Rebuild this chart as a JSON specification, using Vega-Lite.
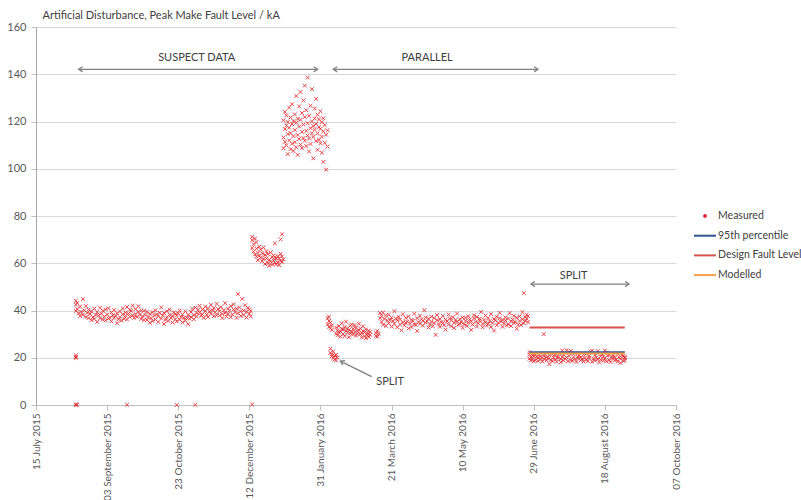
{
  "$schema": "https://vega.github.io/schema/vega-lite/v6.json",
  "width": 640,
  "height": 378,
  "autosize": {"type": "none"},
  "padding": {"left": 36, "top": 27, "right": 125, "bottom": 95},
  "background": "#ffffff",
  "config": {
    "view": {"stroke": null},
    "font": "Lato",
    "axis": {"labelFont": "Lato", "labelFontSize": 11, "labelColor": "#595959", "domainColor": "#bfbfbf", "tickColor": "#bfbfbf", "gridColor": "#d9d9d9"},
    "legend": {"title": null, "orient": "none", "legendX": 657, "legendY": 177, "symbolType": "stroke", "symbolSize": 484, "symbolStrokeWidth": 2, "labelFontSize": 10.5, "labelColor": "#404040", "labelFont": "Lato", "labelOffset": 1, "rowPadding": 1.7, "labelLimit": 200}
  },
  "datasets": {
    "pts": [
      {"d":"2015-08-12","v":42.5},{"d":"2015-08-12","v":39.8},{"d":"2015-08-12","v":44.1},{"d":"2015-08-12","v":20.3},{"d":"2015-08-12","v":21.0},{"d":"2015-08-12","v":19.9},{"d":"2015-08-12","v":0},{"d":"2015-08-12","v":0.2},{"d":"2015-08-13","v":0.1},
      {"d":"2015-08-13","v":40.6},{"d":"2015-08-13","v":43.2},{"d":"2015-08-14","v":38.9},{"d":"2015-08-15","v":41.7},{"d":"2015-08-15","v":37.6},{"d":"2015-08-16","v":39.4},{"d":"2015-08-17","v":44.8},{"d":"2015-08-17","v":38.2},{"d":"2015-08-18","v":40.1},{"d":"2015-08-19","v":37.3},{"d":"2015-08-19","v":41.9},{"d":"2015-08-20","v":39.0},
      {"d":"2015-08-21","v":36.8},{"d":"2015-08-21","v":40.4},{"d":"2015-08-22","v":38.5},{"d":"2015-08-23","v":35.9},{"d":"2015-08-23","v":39.7},{"d":"2015-08-24","v":37.2},{"d":"2015-08-25","v":40.8},{"d":"2015-08-25","v":36.4},{"d":"2015-08-26","v":38.1},{"d":"2015-08-27","v":35.2},{"d":"2015-08-27","v":39.3},{"d":"2015-08-28","v":37.9},{"d":"2015-08-29","v":41.2},{"d":"2015-08-29","v":36.7},{"d":"2015-08-30","v":38.6},{"d":"2015-08-31","v":36.1},{"d":"2015-08-31","v":39.9},
      {"d":"2015-09-01","v":37.4},{"d":"2015-09-02","v":40.5},{"d":"2015-09-02","v":35.8},{"d":"2015-09-03","v":38.3},{"d":"2015-09-04","v":36.6},{"d":"2015-09-04","v":41.0},{"d":"2015-09-05","v":37.0},{"d":"2015-09-06","v":39.2},{"d":"2015-09-06","v":35.4},{"d":"2015-09-07","v":38.0},{"d":"2015-09-08","v":36.9},{"d":"2015-09-08","v":40.2},{"d":"2015-09-09","v":37.7},{"d":"2015-09-10","v":34.6},{"d":"2015-09-10","v":38.8},{"d":"2015-09-11","v":36.3},{"d":"2015-09-12","v":39.6},{"d":"2015-09-12","v":37.1},{"d":"2015-09-13","v":35.7},{"d":"2015-09-14","v":38.4},{"d":"2015-09-14","v":40.9},{"d":"2015-09-15","v":36.5},{"d":"2015-09-16","v":39.1},{"d":"2015-09-16","v":37.8},{"d":"2015-09-17","v":0.1},{"d":"2015-09-17","v":41.5},{"d":"2015-09-17","v":36.2},{"d":"2015-09-18","v":38.7},{"d":"2015-09-19","v":40.3},{"d":"2015-09-19","v":37.4},{"d":"2015-09-20","v":39.8},{"d":"2015-09-21","v":42.1},{"d":"2015-09-21","v":38.0},{"d":"2015-09-22","v":36.9},{"d":"2015-09-23","v":40.6},{"d":"2015-09-23","v":38.5},{"d":"2015-09-24","v":37.3},{"d":"2015-09-25","v":39.4},{"d":"2015-09-25","v":41.8},{"d":"2015-09-26","v":38.2},{"d":"2015-09-27","v":36.4},{"d":"2015-09-27","v":40.0},{"d":"2015-09-28","v":37.6},{"d":"2015-09-29","v":39.9},{"d":"2015-09-29","v":35.9},{"d":"2015-09-30","v":38.1},
      {"d":"2015-10-01","v":36.0},{"d":"2015-10-01","v":39.5},{"d":"2015-10-02","v":37.2},{"d":"2015-10-03","v":34.8},{"d":"2015-10-03","v":38.6},{"d":"2015-10-04","v":36.7},{"d":"2015-10-05","v":39.3},{"d":"2015-10-05","v":35.5},{"d":"2015-10-06","v":37.9},{"d":"2015-10-07","v":36.2},{"d":"2015-10-07","v":40.1},{"d":"2015-10-08","v":38.4},{"d":"2015-10-09","v":35.1},{"d":"2015-10-09","v":37.5},{"d":"2015-10-10","v":39.0},{"d":"2015-10-11","v":36.6},{"d":"2015-10-11","v":41.3},{"d":"2015-10-12","v":37.8},{"d":"2015-10-13","v":34.3},{"d":"2015-10-13","v":38.9},{"d":"2015-10-14","v":36.0},{"d":"2015-10-15","v":39.7},{"d":"2015-10-15","v":37.1},{"d":"2015-10-16","v":35.6},{"d":"2015-10-17","v":38.2},{"d":"2015-10-17","v":40.4},{"d":"2015-10-18","v":36.8},{"d":"2015-10-19","v":34.9},{"d":"2015-10-19","v":37.7},{"d":"2015-10-20","v":39.2},{"d":"2015-10-21","v":36.3},{"d":"2015-10-21","v":38.5},{"d":"2015-10-22","v":0.0},{"d":"2015-10-22","v":35.4},{"d":"2015-10-22","v":37.9},{"d":"2015-10-23","v":38.8},{"d":"2015-10-24","v":36.1},{"d":"2015-10-24","v":40.0},{"d":"2015-10-25","v":37.4},{"d":"2015-10-26","v":35.0},{"d":"2015-10-26","v":38.3},{"d":"2015-10-27","v":36.9},{"d":"2015-10-28","v":39.6},{"d":"2015-10-28","v":35.7},{"d":"2015-10-29","v":37.0},{"d":"2015-10-30","v":34.2},{"d":"2015-10-30","v":38.1},{"d":"2015-10-31","v":36.5},
      {"d":"2015-11-01","v":39.4},{"d":"2015-11-01","v":37.2},{"d":"2015-11-02","v":40.7},{"d":"2015-11-03","v":38.0},{"d":"2015-11-03","v":36.3},{"d":"2015-11-04","v":0.1},{"d":"2015-11-04","v":41.2},{"d":"2015-11-05","v":38.9},{"d":"2015-11-05","v":37.5},{"d":"2015-11-06","v":40.3},{"d":"2015-11-07","v":39.1},{"d":"2015-11-07","v":42.0},{"d":"2015-11-08","v":37.8},{"d":"2015-11-09","v":40.5},{"d":"2015-11-09","v":38.4},{"d":"2015-11-10","v":36.9},{"d":"2015-11-11","v":39.8},{"d":"2015-11-11","v":41.6},{"d":"2015-11-12","v":38.2},{"d":"2015-11-13","v":40.9},{"d":"2015-11-13","v":37.3},{"d":"2015-11-14","v":39.5},{"d":"2015-11-15","v":42.4},{"d":"2015-11-15","v":38.7},{"d":"2015-11-16","v":40.1},{"d":"2015-11-17","v":37.6},{"d":"2015-11-17","v":41.0},{"d":"2015-11-18","v":39.3},{"d":"2015-11-19","v":38.0},{"d":"2015-11-19","v":42.8},{"d":"2015-11-20","v":40.6},{"d":"2015-11-21","v":37.9},{"d":"2015-11-21","v":39.7},{"d":"2015-11-22","v":41.4},{"d":"2015-11-23","v":38.5},{"d":"2015-11-23","v":36.8},{"d":"2015-11-24","v":40.2},{"d":"2015-11-25","v":43.1},{"d":"2015-11-25","v":39.0},{"d":"2015-11-26","v":37.4},{"d":"2015-11-27","v":40.8},{"d":"2015-11-27","v":38.6},{"d":"2015-11-28","v":39.9},{"d":"2015-11-29","v":37.1},{"d":"2015-11-29","v":41.9},{"d":"2015-11-30","v":38.3},
      {"d":"2015-12-01","v":40.4},{"d":"2015-12-01","v":42.6},{"d":"2015-12-02","v":39.2},{"d":"2015-12-03","v":36.9},{"d":"2015-12-03","v":40.7},{"d":"2015-12-04","v":47.0},{"d":"2015-12-04","v":38.8},{"d":"2015-12-05","v":41.3},{"d":"2015-12-06","v":39.6},{"d":"2015-12-06","v":37.7},{"d":"2015-12-07","v":44.9},{"d":"2015-12-08","v":40.0},{"d":"2015-12-08","v":38.1},{"d":"2015-12-09","v":42.2},{"d":"2015-12-10","v":39.4},{"d":"2015-12-10","v":37.0},{"d":"2015-12-11","v":41.1},{"d":"2015-12-12","v":38.6},{"d":"2015-12-12","v":40.5},{"d":"2015-12-13","v":39.8},{"d":"2015-12-13","v":37.5},{"d":"2015-12-14","v":0.2},
      {"d":"2015-12-14","v":69.8},{"d":"2015-12-14","v":66.5},{"d":"2015-12-14","v":71.2},{"d":"2015-12-15","v":68.1},{"d":"2015-12-15","v":64.9},{"d":"2015-12-16","v":70.4},{"d":"2015-12-16","v":63.7},{"d":"2015-12-17","v":66.2},{"d":"2015-12-17","v":62.8},{"d":"2015-12-17","v":68.9},{"d":"2015-12-18","v":64.5},{"d":"2015-12-18","v":61.3},{"d":"2015-12-19","v":67.0},{"d":"2015-12-19","v":63.1},{"d":"2015-12-20","v":62.4},{"d":"2015-12-20","v":65.8},{"d":"2015-12-21","v":60.9},{"d":"2015-12-21","v":64.2},{"d":"2015-12-22","v":66.7},{"d":"2015-12-22","v":61.8},{"d":"2015-12-23","v":63.5},{"d":"2015-12-23","v":59.7},{"d":"2015-12-24","v":62.0},{"d":"2015-12-24","v":65.1},{"d":"2015-12-25","v":60.2},{"d":"2015-12-25","v":63.9},{"d":"2015-12-26","v":61.5},{"d":"2015-12-26","v":58.9},{"d":"2015-12-27","v":64.6},{"d":"2015-12-27","v":60.7},{"d":"2015-12-28","v":62.7},{"d":"2015-12-28","v":59.4},{"d":"2015-12-29","v":61.2},{"d":"2015-12-29","v":63.3},{"d":"2015-12-30","v":60.0},{"d":"2015-12-30","v":62.5},{"d":"2015-12-30","v":68.4},{"d":"2015-12-31","v":59.6},{"d":"2015-12-31","v":61.9},{"d":"2016-01-01","v":63.0},{"d":"2016-01-01","v":60.4},{"d":"2016-01-02","v":62.1},{"d":"2016-01-02","v":59.2},{"d":"2016-01-03","v":61.0},{"d":"2016-01-03","v":64.0},{"d":"2016-01-03","v":70.1},{"d":"2016-01-04","v":60.6},{"d":"2016-01-04","v":62.9},{"d":"2016-01-04","v":72.3},{"d":"2016-01-05","v":61.7},
      {"d":"2016-01-05","v":113.2},{"d":"2016-01-05","v":120.5},{"d":"2016-01-05","v":108.7},{"d":"2016-01-06","v":116.8},{"d":"2016-01-06","v":111.4},{"d":"2016-01-06","v":124.1},{"d":"2016-01-07","v":109.9},{"d":"2016-01-07","v":118.3},{"d":"2016-01-07","v":122.6},{"d":"2016-01-08","v":114.7},{"d":"2016-01-08","v":106.2},{"d":"2016-01-08","v":119.8},{"d":"2016-01-09","v":112.0},{"d":"2016-01-09","v":125.9},{"d":"2016-01-09","v":117.4},{"d":"2016-01-10","v":108.3},{"d":"2016-01-10","v":121.7},{"d":"2016-01-10","v":115.1},{"d":"2016-01-11","v":110.6},{"d":"2016-01-11","v":118.9},{"d":"2016-01-11","v":127.3},{"d":"2016-01-12","v":113.8},{"d":"2016-01-12","v":107.5},{"d":"2016-01-12","v":120.2},{"d":"2016-01-13","v":116.4},{"d":"2016-01-13","v":123.0},{"d":"2016-01-13","v":111.2},{"d":"2016-01-14","v":109.1},{"d":"2016-01-14","v":119.5},{"d":"2016-01-14","v":130.8},{"d":"2016-01-15","v":114.3},{"d":"2016-01-15","v":121.1},{"d":"2016-01-15","v":105.9},{"d":"2016-01-16","v":117.9},{"d":"2016-01-16","v":112.6},{"d":"2016-01-16","v":126.4},{"d":"2016-01-17","v":110.2},{"d":"2016-01-17","v":120.7},{"d":"2016-01-17","v":132.5},{"d":"2016-01-18","v":115.6},{"d":"2016-01-18","v":108.8},{"d":"2016-01-18","v":123.6},{"d":"2016-01-19","v":118.7},{"d":"2016-01-19","v":113.0},{"d":"2016-01-19","v":128.9},{"d":"2016-01-20","v":111.9},{"d":"2016-01-20","v":121.9},{"d":"2016-01-20","v":135.2},{"d":"2016-01-21","v":116.1},{"d":"2016-01-21","v":109.6},{"d":"2016-01-21","v":124.8},{"d":"2016-01-22","v":119.3},{"d":"2016-01-22","v":114.1},{"d":"2016-01-22","v":138.6},{"d":"2016-01-23","v":112.8},{"d":"2016-01-23","v":122.4},{"d":"2016-01-23","v":107.3},{"d":"2016-01-24","v":117.2},{"d":"2016-01-24","v":126.7},{"d":"2016-01-24","v":110.5},{"d":"2016-01-25","v":115.0},{"d":"2016-01-25","v":120.0},{"d":"2016-01-25","v":133.7},{"d":"2016-01-26","v":113.5},{"d":"2016-01-26","v":118.1},{"d":"2016-01-26","v":104.4},{"d":"2016-01-27","v":121.3},{"d":"2016-01-27","v":116.6},{"d":"2016-01-27","v":125.5},{"d":"2016-01-28","v":111.7},{"d":"2016-01-28","v":119.0},{"d":"2016-01-28","v":129.6},{"d":"2016-01-29","v":114.9},{"d":"2016-01-29","v":108.0},{"d":"2016-01-29","v":122.9},{"d":"2016-01-30","v":117.6},{"d":"2016-01-30","v":112.3},{"d":"2016-01-30","v":120.9},{"d":"2016-01-31","v":110.8},{"d":"2016-01-31","v":116.9},{"d":"2016-01-31","v":124.3},{"d":"2016-02-01","v":113.6},{"d":"2016-02-01","v":119.7},{"d":"2016-02-01","v":106.8},{"d":"2016-02-02","v":115.8},{"d":"2016-02-02","v":102.9},{"d":"2016-02-02","v":121.4},{"d":"2016-02-03","v":111.0},{"d":"2016-02-03","v":118.5},{"d":"2016-02-04","v":114.4},{"d":"2016-02-04","v":99.6},{"d":"2016-02-05","v":116.3},{"d":"2016-02-05","v":109.4},
      {"d":"2016-02-05","v":36.8},{"d":"2016-02-05","v":34.2},{"d":"2016-02-06","v":33.1},{"d":"2016-02-06","v":35.6},{"d":"2016-02-06","v":37.4},{"d":"2016-02-07","v":32.5},{"d":"2016-02-07","v":34.9},{"d":"2016-02-08","v":31.8},{"d":"2016-02-08","v":33.7},
      {"d":"2016-02-07","v":23.8},{"d":"2016-02-07","v":22.1},{"d":"2016-02-08","v":21.4},{"d":"2016-02-08","v":20.6},{"d":"2016-02-09","v":22.7},{"d":"2016-02-09","v":19.8},{"d":"2016-02-10","v":20.9},{"d":"2016-02-10","v":19.3},{"d":"2016-02-11","v":21.2},{"d":"2016-02-11","v":18.9},{"d":"2016-02-12","v":20.1},
      {"d":"2016-02-11","v":30.2},{"d":"2016-02-11","v":32.8},{"d":"2016-02-12","v":29.5},{"d":"2016-02-12","v":31.6},{"d":"2016-02-13","v":33.4},{"d":"2016-02-13","v":30.7},{"d":"2016-02-14","v":31.1},{"d":"2016-02-14","v":28.9},{"d":"2016-02-15","v":32.3},{"d":"2016-02-15","v":34.6},{"d":"2016-02-16","v":30.0},{"d":"2016-02-16","v":31.9},{"d":"2016-02-17","v":29.2},{"d":"2016-02-17","v":33.0},{"d":"2016-02-18","v":31.4},{"d":"2016-02-18","v":35.3},{"d":"2016-02-19","v":30.6},{"d":"2016-02-19","v":32.5},{"d":"2016-02-20","v":28.7},{"d":"2016-02-20","v":31.8},{"d":"2016-02-21","v":33.6},{"d":"2016-02-21","v":30.3},{"d":"2016-02-22","v":31.0},{"d":"2016-02-22","v":34.1},{"d":"2016-02-23","v":29.8},{"d":"2016-02-23","v":32.2},{"d":"2016-02-24","v":30.9},{"d":"2016-02-24","v":33.8},{"d":"2016-02-25","v":32.7},{"d":"2016-02-25","v":29.4},{"d":"2016-02-26","v":31.3},{"d":"2016-02-26","v":30.1},{"d":"2016-02-27","v":34.4},{"d":"2016-02-27","v":31.7},{"d":"2016-02-28","v":29.9},{"d":"2016-02-28","v":32.4},{"d":"2016-02-29","v":30.5},{"d":"2016-02-29","v":28.6},{"d":"2016-03-01","v":31.2},{"d":"2016-03-01","v":33.3},{"d":"2016-03-02","v":29.1},{"d":"2016-03-02","v":30.8},{"d":"2016-03-03","v":32.0},{"d":"2016-03-03","v":28.3},{"d":"2016-03-04","v":30.4},{"d":"2016-03-04","v":29.6},{"d":"2016-03-05","v":31.5},{"d":"2016-03-05","v":28.8},{"d":"2016-03-06","v":29.7},{"d":"2016-03-06","v":30.9},
      {"d":"2016-03-10","v":30.6},{"d":"2016-03-10","v":29.3},{"d":"2016-03-11","v":31.4},{"d":"2016-03-11","v":28.9},{"d":"2016-03-12","v":30.1},
      {"d":"2016-03-13","v":36.8},{"d":"2016-03-13","v":38.9},{"d":"2016-03-14","v":35.2},{"d":"2016-03-14","v":37.6},{"d":"2016-03-15","v":39.1},{"d":"2016-03-15","v":34.0},{"d":"2016-03-16","v":36.4},{"d":"2016-03-17","v":33.5},{"d":"2016-03-17","v":37.9},{"d":"2016-03-18","v":35.8},{"d":"2016-03-19","v":38.2},{"d":"2016-03-19","v":34.6},{"d":"2016-03-20","v":36.1},{"d":"2016-03-21","v":33.2},{"d":"2016-03-21","v":37.0},{"d":"2016-03-22","v":35.5},{"d":"2016-03-23","v":39.7},{"d":"2016-03-23","v":34.3},{"d":"2016-03-24","v":36.6},{"d":"2016-03-25","v":32.9},{"d":"2016-03-25","v":35.9},{"d":"2016-03-26","v":37.3},{"d":"2016-03-27","v":34.1},{"d":"2016-03-27","v":36.2},{"d":"2016-03-28","v":31.6},{"d":"2016-03-29","v":35.0},{"d":"2016-03-29","v":38.4},{"d":"2016-03-30","v":33.7},{"d":"2016-03-31","v":36.9},{"d":"2016-03-31","v":34.8},
      {"d":"2016-04-01","v":35.3},{"d":"2016-04-02","v":32.4},{"d":"2016-04-02","v":37.5},{"d":"2016-04-03","v":34.5},{"d":"2016-04-04","v":36.0},{"d":"2016-04-04","v":33.0},{"d":"2016-04-05","v":35.7},{"d":"2016-04-06","v":38.6},{"d":"2016-04-06","v":34.2},{"d":"2016-04-07","v":33.9},{"d":"2016-04-08","v":36.7},{"d":"2016-04-08","v":31.3},{"d":"2016-04-09","v":35.1},{"d":"2016-04-10","v":37.8},{"d":"2016-04-10","v":34.4},{"d":"2016-04-11","v":36.3},{"d":"2016-04-12","v":33.6},{"d":"2016-04-12","v":35.6},{"d":"2016-04-13","v":40.1},{"d":"2016-04-14","v":34.9},{"d":"2016-04-14","v":37.1},{"d":"2016-04-15","v":35.4},{"d":"2016-04-16","v":32.8},{"d":"2016-04-16","v":36.5},{"d":"2016-04-17","v":34.0},{"d":"2016-04-18","v":37.4},{"d":"2016-04-18","v":35.2},{"d":"2016-04-19","v":33.3},{"d":"2016-04-20","v":36.8},{"d":"2016-04-20","v":34.7},{"d":"2016-04-21","v":29.7},{"d":"2016-04-22","v":35.9},{"d":"2016-04-22","v":38.1},{"d":"2016-04-23","v":34.3},{"d":"2016-04-24","v":36.4},{"d":"2016-04-24","v":33.1},{"d":"2016-04-25","v":35.0},{"d":"2016-04-26","v":37.7},{"d":"2016-04-26","v":34.6},{"d":"2016-04-27","v":33.8},{"d":"2016-04-28","v":36.1},{"d":"2016-04-28","v":31.9},{"d":"2016-04-29","v":35.5},{"d":"2016-04-30","v":38.3},{"d":"2016-04-30","v":34.1},
      {"d":"2016-05-01","v":36.6},{"d":"2016-05-02","v":33.4},{"d":"2016-05-02","v":35.8},{"d":"2016-05-03","v":37.2},{"d":"2016-05-04","v":34.8},{"d":"2016-05-04","v":32.6},{"d":"2016-05-05","v":36.0},{"d":"2016-05-06","v":38.7},{"d":"2016-05-06","v":35.3},{"d":"2016-05-07","v":33.9},{"d":"2016-05-08","v":36.3},{"d":"2016-05-08","v":34.5},{"d":"2016-05-09","v":35.1},{"d":"2016-05-10","v":32.7},{"d":"2016-05-10","v":37.0},{"d":"2016-05-11","v":34.2},{"d":"2016-05-12","v":36.9},{"d":"2016-05-12","v":35.6},{"d":"2016-05-13","v":33.5},{"d":"2016-05-14","v":37.6},{"d":"2016-05-14","v":34.9},{"d":"2016-05-15","v":36.2},{"d":"2016-05-16","v":31.8},{"d":"2016-05-16","v":35.4},{"d":"2016-05-17","v":34.0},{"d":"2016-05-18","v":38.0},{"d":"2016-05-18","v":36.7},{"d":"2016-05-19","v":35.2},{"d":"2016-05-20","v":33.2},{"d":"2016-05-20","v":37.3},{"d":"2016-05-21","v":34.6},{"d":"2016-05-22","v":36.5},{"d":"2016-05-22","v":35.7},{"d":"2016-05-23","v":39.4},{"d":"2016-05-24","v":34.3},{"d":"2016-05-24","v":32.9},{"d":"2016-05-25","v":36.1},{"d":"2016-05-26","v":35.0},{"d":"2016-05-26","v":37.9},{"d":"2016-05-27","v":33.6},{"d":"2016-05-28","v":36.8},{"d":"2016-05-28","v":34.4},{"d":"2016-05-29","v":35.5},{"d":"2016-05-30","v":38.5},{"d":"2016-05-30","v":33.0},{"d":"2016-05-31","v":34.7},
      {"d":"2016-06-01","v":36.4},{"d":"2016-06-01","v":31.5},{"d":"2016-06-02","v":35.9},{"d":"2016-06-03","v":33.8},{"d":"2016-06-03","v":37.4},{"d":"2016-06-04","v":34.9},{"d":"2016-06-05","v":36.7},{"d":"2016-06-05","v":39.0},{"d":"2016-06-06","v":35.3},{"d":"2016-06-07","v":33.1},{"d":"2016-06-07","v":36.0},{"d":"2016-06-08","v":34.5},{"d":"2016-06-09","v":37.1},{"d":"2016-06-09","v":35.8},{"d":"2016-06-10","v":33.7},{"d":"2016-06-11","v":36.6},{"d":"2016-06-11","v":34.2},{"d":"2016-06-12","v":38.9},{"d":"2016-06-13","v":35.4},{"d":"2016-06-13","v":33.4},{"d":"2016-06-14","v":36.2},{"d":"2016-06-15","v":34.8},{"d":"2016-06-15","v":37.8},{"d":"2016-06-16","v":35.1},{"d":"2016-06-17","v":32.3},{"d":"2016-06-17","v":36.9},{"d":"2016-06-18","v":34.0},{"d":"2016-06-19","v":37.5},{"d":"2016-06-19","v":35.6},{"d":"2016-06-20","v":33.9},{"d":"2016-06-21","v":36.3},{"d":"2016-06-21","v":39.3},{"d":"2016-06-22","v":47.4},{"d":"2016-06-22","v":34.6},{"d":"2016-06-23","v":35.7},{"d":"2016-06-23","v":37.2},{"d":"2016-06-24","v":36.5},{"d":"2016-06-24","v":38.2},{"d":"2016-06-25","v":35.0},{"d":"2016-06-25","v":37.6},
      {"d":"2016-06-26","v":21.3},{"d":"2016-06-26","v":19.6},{"d":"2016-06-26","v":22.4},{"d":"2016-06-27","v":20.1},{"d":"2016-06-27","v":18.8},{"d":"2016-06-28","v":19.4},{"d":"2016-06-28","v":21.0},{"d":"2016-06-29","v":20.7},{"d":"2016-06-29","v":18.5},{"d":"2016-06-30","v":19.0},{"d":"2016-06-30","v":21.6},{"d":"2016-07-01","v":20.4},{"d":"2016-07-02","v":18.7},{"d":"2016-07-02","v":19.9},{"d":"2016-07-03","v":21.2},{"d":"2016-07-04","v":19.3},{"d":"2016-07-04","v":20.5},{"d":"2016-07-05","v":18.4},{"d":"2016-07-06","v":30.0},{"d":"2016-07-06","v":20.8},{"d":"2016-07-06","v":19.5},{"d":"2016-07-07","v":21.4},{"d":"2016-07-08","v":18.9},{"d":"2016-07-08","v":20.2},{"d":"2016-07-09","v":19.7},{"d":"2016-07-10","v":17.3},{"d":"2016-07-10","v":20.9},{"d":"2016-07-11","v":19.1},{"d":"2016-07-12","v":21.5},{"d":"2016-07-12","v":18.6},{"d":"2016-07-13","v":20.0},{"d":"2016-07-14","v":19.2},{"d":"2016-07-14","v":21.1},{"d":"2016-07-15","v":18.3},{"d":"2016-07-16","v":20.6},{"d":"2016-07-16","v":19.8},{"d":"2016-07-17","v":21.8},{"d":"2016-07-18","v":19.4},{"d":"2016-07-18","v":18.1},{"d":"2016-07-19","v":20.3},{"d":"2016-07-19","v":23.1},{"d":"2016-07-20","v":18.8},{"d":"2016-07-20","v":21.3},{"d":"2016-07-21","v":19.6},{"d":"2016-07-22","v":23.2},{"d":"2016-07-22","v":20.1},{"d":"2016-07-23","v":18.5},{"d":"2016-07-24","v":20.7},{"d":"2016-07-24","v":22.4},{"d":"2016-07-25","v":19.0},{"d":"2016-07-25","v":22.9},{"d":"2016-07-26","v":21.9},{"d":"2016-07-26","v":18.7},{"d":"2016-07-27","v":20.4},{"d":"2016-07-28","v":19.3},{"d":"2016-07-28","v":22.0},{"d":"2016-07-29","v":18.2},{"d":"2016-07-30","v":20.5},{"d":"2016-07-30","v":19.7},{"d":"2016-07-31","v":21.0},
      {"d":"2016-08-01","v":18.9},{"d":"2016-08-01","v":20.2},{"d":"2016-08-02","v":19.5},{"d":"2016-08-03","v":21.4},{"d":"2016-08-03","v":18.4},{"d":"2016-08-04","v":20.0},{"d":"2016-08-05","v":19.1},{"d":"2016-08-05","v":21.7},{"d":"2016-08-06","v":18.6},{"d":"2016-08-07","v":20.8},{"d":"2016-08-07","v":19.9},{"d":"2016-08-08","v":22.6},{"d":"2016-08-09","v":18.3},{"d":"2016-08-09","v":23.0},{"d":"2016-08-10","v":19.6},{"d":"2016-08-11","v":21.2},{"d":"2016-08-11","v":18.8},{"d":"2016-08-12","v":20.1},{"d":"2016-08-13","v":19.4},{"d":"2016-08-13","v":22.8},{"d":"2016-08-14","v":18.0},{"d":"2016-08-15","v":20.6},{"d":"2016-08-15","v":19.2},{"d":"2016-08-16","v":21.5},{"d":"2016-08-17","v":18.7},{"d":"2016-08-17","v":20.4},{"d":"2016-08-18","v":19.8},{"d":"2016-08-18","v":23.1},{"d":"2016-08-19","v":22.3},{"d":"2016-08-19","v":18.5},{"d":"2016-08-20","v":20.9},{"d":"2016-08-21","v":19.0},{"d":"2016-08-21","v":21.3},{"d":"2016-08-22","v":18.2},{"d":"2016-08-23","v":20.5},{"d":"2016-08-23","v":19.7},{"d":"2016-08-24","v":21.1},{"d":"2016-08-25","v":18.9},{"d":"2016-08-25","v":20.0},{"d":"2016-08-26","v":19.3},{"d":"2016-08-27","v":21.6},{"d":"2016-08-27","v":18.4},{"d":"2016-08-28","v":20.2},{"d":"2016-08-29","v":19.5},{"d":"2016-08-29","v":17.8},{"d":"2016-08-30","v":21.0},{"d":"2016-08-31","v":18.6},{"d":"2016-08-31","v":20.7},{"d":"2016-09-01","v":19.9},{"d":"2016-09-01","v":20.3},{"d":"2016-09-01","v":18.9}
    ],
    "lines": [
      {"s":"Design Fault Level","d":"2016-06-26","v":32.8},{"s":"Design Fault Level","d":"2016-09-01","v":32.8},
      {"s":"95th percentile","d":"2016-06-26","v":22.3},{"s":"95th percentile","d":"2016-09-01","v":22.3},
      {"s":"Modelled","d":"2016-06-26","v":21.8},{"s":"Modelled","d":"2016-09-01","v":21.8}
    ],
    "arrows": [
      {"k":"h","a1":"2015-08-14","a2":"2016-01-29","b1":142.1,"b2":142.1},
      {"k":"h","a1":"2016-02-09","a2":"2016-07-02","b1":142.1,"b2":142.1},
      {"k":"h","a1":"2016-06-27","a2":"2016-09-04","b1":51.2,"b2":51.2},
      {"k":"g","a1":"2016-02-14","a2":"2016-03-07","b1":18.6,"b2":12.0}
    ],
    "labels": [
      {"t":"SUSPECT DATA","d":"2015-11-05","v":147.0},
      {"t":"PARALLEL","d":"2016-04-15","v":147.0},
      {"t":"SPLIT","d":"2016-07-27","v":54.5},
      {"t":"SPLIT","d":"2016-03-20","v":9.9}
    ]
  },
  "layer": [
    {
      "data": {"name": "pts"},
      "mark": {"type": "point", "shape": "M-1,-1L1,1M-1,1L1,-1", "filled": false, "strokeWidth": 1, "size": 14, "opacity": 0.85},
      "encoding": {
        "x": {"field": "d", "type": "temporal", "scale": {"type": "utc", "domain": [{"year": 2015, "month": 7, "date": 15, "utc": true}, {"year": 2016, "month": 10, "date": 7, "utc": true}]},
          "axis": {"title": null, "labelExpr": "utcFormat(datum.value, '%d %B %Y')", "labelFontSize": 10, "labelAngle": -90, "labelAlign": "right", "labelBaseline": "middle", "labelPadding": 3, "tickSize": 5, "grid": false, "labelOverlap": false, "labelBound": false,
            "values": [{"year": 2015, "month": 7, "date": 15, "utc": true}, {"year": 2015, "month": 9, "date": 3, "utc": true}, {"year": 2015, "month": 10, "date": 23, "utc": true}, {"year": 2015, "month": 12, "date": 12, "utc": true}, {"year": 2016, "month": 1, "date": 31, "utc": true}, {"year": 2016, "month": 3, "date": 21, "utc": true}, {"year": 2016, "month": 5, "date": 10, "utc": true}, {"year": 2016, "month": 6, "date": 29, "utc": true}, {"year": 2016, "month": 8, "date": 18, "utc": true}, {"year": 2016, "month": 10, "date": 7, "utc": true}]}},
        "y": {"field": "v", "type": "quantitative", "scale": {"domain": [0, 160], "nice": false},
          "axis": {"title": "Artificial Disturbance,  Peak Make Fault Level / kA", "titleAngle": 0, "titleAlign": "left", "titleBaseline": "alphabetic", "titleX": 6, "titleY": -9, "titleFont": "Lato", "titleFontSize": 11, "titleFontWeight": "normal", "titleColor": "#404040",
            "values": [0, 20, 40, 60, 80, 100, 120, 140, 160], "grid": true, "tickSize": 5, "labelPadding": 5, "domainColor": "#a6a6a6"}},
        "color": {"datum": "Measured", "type": "nominal",
          "scale": {"domain": ["Measured", "95th percentile", "Design Fault Level", "Modelled"], "range": ["#e0242a", "#2f5597", "#d9534f", "#f5a04a"]},
          "legend": {"title": null, "encode": {"symbols": {"update": {"shape": {"signal": "datum.value === 'Measured' ? 'M-0.12,-0.12L0.12,0.12M-0.12,0.12L0.12,-0.12' : 'stroke'"}, "fill": {"value": "transparent"}}}}}}
      }
    },
    {
      "data": {"name": "lines"},
      "mark": {"type": "line", "strokeWidth": 2},
      "encoding": {
        "x": {"field": "d", "type": "temporal"},
        "y": {"field": "v", "type": "quantitative"},
        "color": {"field": "s", "type": "nominal",
          "legend": {"title": null, "encode": {"symbols": {"update": {"shape": {"signal": "datum.value === 'Measured' ? 'M-0.12,-0.12L0.12,0.12M-0.12,0.12L0.12,-0.12' : 'stroke'"}, "fill": {"value": "transparent"}}}}}},
        "detail": {"field": "s"}
      }
    },
    {
      "data": {"name": "arrows"},
      "mark": {"type": "rule", "color": "#808080", "strokeWidth": 1.3},
      "encoding": {
        "x": {"field": "a1", "type": "temporal"},
        "x2": {"field": "a2"},
        "y": {"field": "b1", "type": "quantitative"},
        "y2": {"field": "b2"}
      }
    },
    {
      "data": {"name": "arrows"},
      "transform": [{"filter": "datum.k == 'h'"}],
      "mark": {"type": "point", "shape": "M2,-1.3L0,0L2,1.3", "filled": false, "color": "#808080", "strokeWidth": 1.3, "size": 16, "opacity": 1},
      "encoding": {
        "x": {"field": "a1", "type": "temporal"},
        "y": {"field": "b1", "type": "quantitative"}
      }
    },
    {
      "data": {"name": "arrows"},
      "transform": [{"filter": "datum.k == 'h'"}],
      "mark": {"type": "point", "shape": "M-2,-1.3L0,0L-2,1.3", "filled": false, "color": "#808080", "strokeWidth": 1.3, "size": 16, "opacity": 1},
      "encoding": {
        "x": {"field": "a2", "type": "temporal"},
        "y": {"field": "b2", "type": "quantitative"}
      }
    },
    {
      "data": {"name": "arrows"},
      "transform": [{"filter": "datum.k == 'g'"}],
      "mark": {"type": "point", "shape": "M2,-1.3L0,0L2,1.3", "filled": false, "color": "#808080", "strokeWidth": 1.3, "size": 16, "angle": 27, "opacity": 1},
      "encoding": {
        "x": {"field": "a1", "type": "temporal"},
        "y": {"field": "b1", "type": "quantitative"}
      }
    },
    {
      "data": {"name": "labels"},
      "mark": {"type": "text", "fontSize": 11, "color": "#404040", "font": "Lato", "align": "center", "baseline": "middle"},
      "encoding": {
        "x": {"field": "d", "type": "temporal"},
        "y": {"field": "v", "type": "quantitative"},
        "text": {"field": "t"}
      }
    }
  ]
}
